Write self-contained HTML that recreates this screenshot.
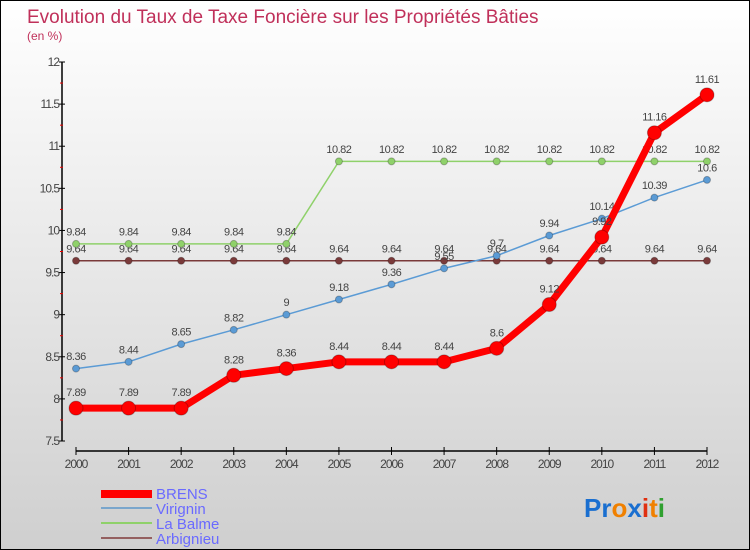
<!DOCTYPE html>
<html><head><meta charset="utf-8"><style>
body{margin:0}
#c{width:750px;height:550px;position:relative;box-sizing:border-box;border:1px solid #000;background:linear-gradient(#fff,#cfcfcf);font-family:"Liberation Sans",sans-serif;overflow:hidden}
</style></head><body>
<div id="c">
<svg id="s" width="748" height="548" style="position:absolute;left:0;top:0">
<text x="26" y="22" font-size="19" fill="#c0305a">Evolution du Taux de Taxe Foncière sur les Propriétés Bâties</text>
<text x="26" y="39" font-size="12" fill="#c0305a">(en %)</text>
<g id="ax"></g><g id="ser"></g>
<g>
<rect x="100" y="489" width="51" height="8" fill="#f00"/>
<text x="155" y="498" font-size="15" fill="#6a6aff">BRENS</text>
<rect x="100" y="506" width="51" height="2" fill="#7aa6cc"/>
<text x="155" y="513" font-size="15" fill="#6a6aff">Virignin</text>
<rect x="100" y="521" width="51" height="2" fill="#8fd16a"/>
<text x="155" y="528" font-size="15" fill="#6a6aff">La Balme</text>
<rect x="100" y="536" width="51" height="2" fill="#946060"/>
<text x="155" y="543" font-size="15" fill="#6a6aff">Arbignieu</text>
</g>
<text x="583" y="516" font-size="26" font-weight="bold"><tspan fill="#1a6fd0">Pr</tspan><tspan fill="#f08000">o</tspan><tspan fill="#1a6fd0">x</tspan><tspan fill="#e03010">i</tspan><tspan fill="#f08000">t</tspan><tspan fill="#30a030">i</tspan></text>
</svg>
</div>
<script>
const years=[2000,2001,2002,2003,2004,2005,2006,2007,2008,2009,2010,2011,2012];
const brens=[7.89,7.89,7.89,8.28,8.36,8.44,8.44,8.44,8.6,9.12,9.92,11.16,11.61];
const virignin=[8.36,8.44,8.65,8.82,9,9.18,9.36,9.55,9.7,9.94,10.14,10.39,10.6];
const laBalme=[9.84,9.84,9.84,9.84,9.84,10.82,10.82,10.82,10.82,10.82,10.82,10.82,10.82];
const arbignieu=[9.64,9.64,9.64,9.64,9.64,9.64,9.64,9.64,9.64,9.64,9.64,9.64,9.64];
const yTicks=[7.5,8,8.5,9,9.5,10,10.5,11,11.5,12];
const NS="http://www.w3.org/2000/svg";
const X=i=>75+i*(631/12), Y=v=>440-(v-7.5)*(379/4.5);
function mk(p,t,a){const e=document.createElementNS(NS,t);for(const k in a)e.setAttribute(k,a[k]);p.appendChild(e);return e;}
const ax=document.getElementById('ax'),ser=document.getElementById('ser');
let l=mk(ax,'line',{x1:61,y1:61,x2:61,y2:440,stroke:'#000','stroke-width':1.5});


l=mk(ax,'line',{x1:75,y1:450,x2:706,y2:450,stroke:'#000','stroke-width':1.5});


yTicks.forEach((v,i)=>{
 mk(ax,'line',{x1:58,y1:Y(v),x2:64,y2:Y(v),stroke:'#000'});
 if(i<yTicks.length-1) mk(ax,'line',{x1:59,y1:Y(v+0.25),x2:62,y2:Y(v+0.25),stroke:'#e00'});
 const t=mk(ax,'text',{x:58,y:Y(v)+4,'font-size':12,'text-anchor':'end',fill:'#444','letter-spacing':'-1'});
 t.textContent=String(v);
 
 
});
years.forEach((yr,i)=>{
 mk(ax,'line',{x1:X(i),y1:446,x2:X(i),y2:454,stroke:'#000'});
 const t=mk(ax,'text',{x:X(i),y:467,'font-size':12,'text-anchor':'middle',fill:'#444','letter-spacing':'-1'});
 t.textContent=yr;
 
 
});
function series(name,d,col,w,r){
 const g=mk(ser,'g',{});
 
 
 mk(g,'polyline',{points:d.map((v,i)=>X(i)+','+Y(v)).join(' '),fill:'none',stroke:col,'stroke-width':w,'stroke-linejoin':'round'});
 d.forEach((v,i)=>{
  const c=mk(g,'circle',{cx:X(i),cy:Y(v),r:r,fill:col,stroke:'rgba(0,0,0,0.25)','stroke-width':1});
  
  
  const t=mk(g,'text',{x:X(i),y:Y(v)-(r+5),'font-size':11,'text-anchor':'middle',fill:'#444','letter-spacing':'-0.5'});
  t.textContent=String(v);
  
  
 });
}
series('arbignieu',arbignieu,'#7a3a3a',1.5,3.5);
series('la-balme',laBalme,'#8fd16a',1.5,3.5);
series('virignin',virignin,'#5b9bd5',1.5,3.5);
series('brens',brens,'#f00',7,7);
</script>
</body></html>
